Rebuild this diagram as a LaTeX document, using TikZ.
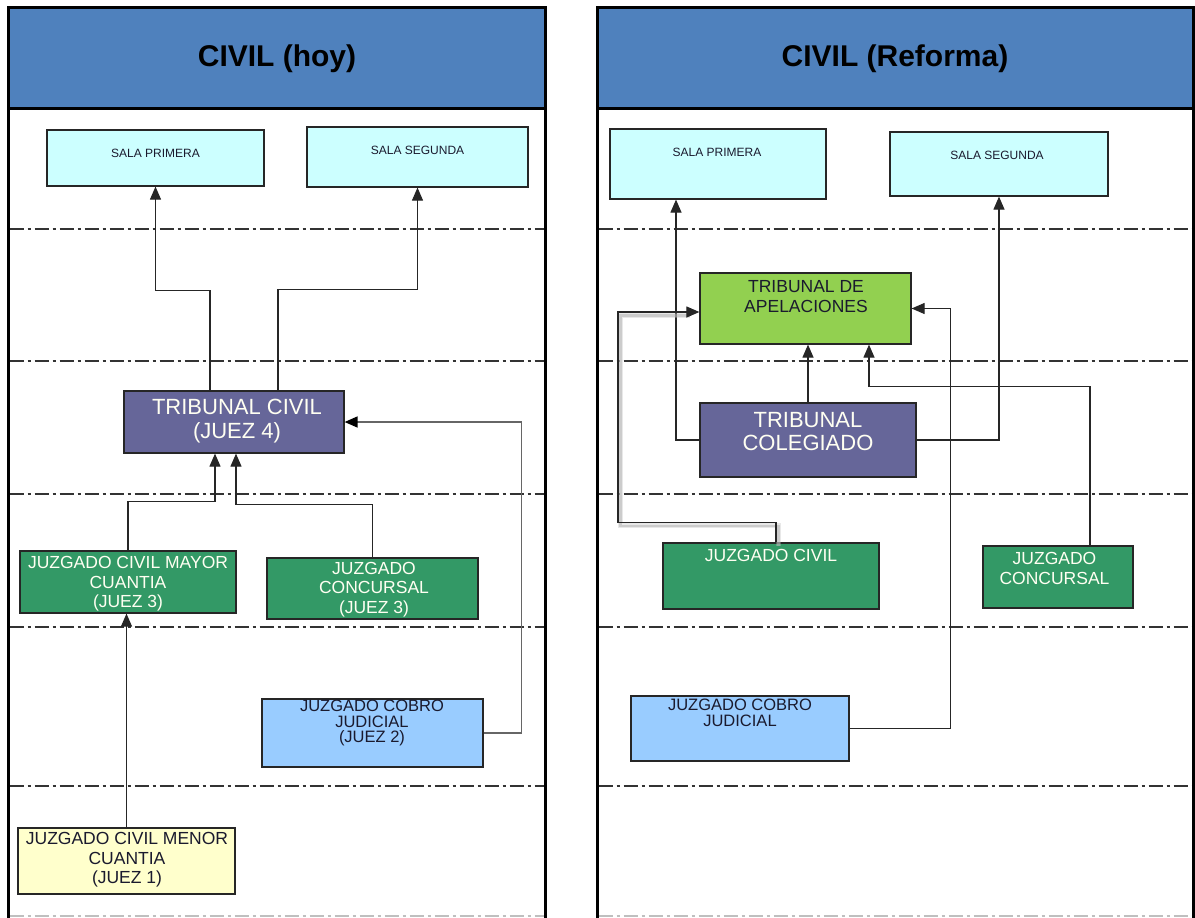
\documentclass[tikz,border=0pt]{standalone}
\usepackage{fontspec}
\setmainfont{Liberation Sans}
\usetikzlibrary{arrows.meta}
\definecolor{hdr}{HTML}{4F81BD}
\definecolor{cyanbox}{HTML}{CCFFFF}
\definecolor{purplebox}{HTML}{666699}
\definecolor{greenbox}{HTML}{339966}
\definecolor{bluebox}{HTML}{99CCFF}
\definecolor{yellowbox}{HTML}{FFFFCC}
\definecolor{limebox}{HTML}{92D050}
\definecolor{darktxt}{HTML}{1A1A2E}
\definecolor{lighttxt}{HTML}{FFFFF2}
\definecolor{sepline}{HTML}{333333}
\tikzset{
  box/.style={draw=black!85, line width=1.2pt, inner sep=0pt, rectangle},
  conn/.style={draw=black!85, line width=1.1pt, -{Triangle[length=13pt,width=11pt]}},
  conngray/.style={draw=gray!80!black, line width=1.6pt, -{Triangle[length=13pt,width=11pt,color=black]}},
  connshadow/.style={draw=gray!50, line width=5pt, opacity=0.35},
  connshadowin/.style={draw=gray!60, line width=2.5pt, opacity=0.5},
  sep/.style={draw=sepline, line width=1.4pt, dash pattern=on 14pt off 4pt on 3pt off 4pt},
  sepgray/.style={draw=gray!50, line width=1.4pt, dash pattern=on 14pt off 4pt on 3pt off 4pt},
  frame/.style={draw=black, line width=3pt},
  ttl/.style={font=\fontsize{30}{32}\selectfont\bfseries, text=black},
  tsmall/.style={font=\fontsize{12}{14}\selectfont, text=darktxt, inner sep=0pt},
  tmid/.style={font=\fontsize{17.5}{19.5}\selectfont, align=center, inner sep=0pt},
  tmidtight/.style={font=\fontsize{16.5}{15.5}\selectfont, align=center, inner sep=0pt},
  tbig/.style={font=\fontsize{22}{24.5}\selectfont, align=center, inner sep=0pt, text=lighttxt},
}
\begin{document}
\begin{tikzpicture}[x=1pt, y=-1pt]
\useasboundingbox (0,0) rectangle (1195,918);
\clip (0,0) rectangle (1195,918);

% ---------- panels ----------
\fill[white] (0,0) rectangle (1195,918);
\fill[hdr] (8,7) rectangle (545,108);
\fill[hdr] (597,7) rectangle (1193,108);
\node[ttl] (tl) at (277,59) {CIVIL (hoy)};
\node[ttl] (tr) at (895,59) {CIVIL (Reforma)};

% separators
\foreach \yy in {229,361,494,627,786} {
  \draw[sep] (9.5,\yy) -- (543.5,\yy);
  \draw[sep] (598.5,\yy) -- (1191.5,\yy);
}
\draw[sepgray] (9.5,916) -- (543.5,916);
\draw[sepgray] (598.5,916) -- (1191.5,916);

\draw[frame] (8,930) -- (8,7) -- (545,7) -- (545,930);
\draw[frame] (8,108) -- (545,108);
\draw[frame] (597,930) -- (597,7) -- (1193,7) -- (1193,930);
\draw[frame] (597,108) -- (1193,108);

% ---------- left boxes ----------
\node[box, fill=cyanbox, minimum width=217pt, minimum height=56pt] (lsp) at (155.5,158) {};
\node[box, fill=cyanbox, minimum width=221pt, minimum height=60pt] (lss) at (417.5,157) {};
\node[box, fill=purplebox, minimum width=220pt, minimum height=62pt] (ltc) at (234,422) {};
\node[box, fill=greenbox, minimum width=216pt, minimum height=62pt] (lmay) at (128,582) {};
\node[box, fill=greenbox, minimum width=211pt, minimum height=61pt] (lcon) at (372.5,588.5) {};
\node[box, fill=bluebox, minimum width=221pt, minimum height=68pt] (lcob) at (372.5,733) {};
\node[box, fill=yellowbox, minimum width=217pt, minimum height=66pt] (lmen) at (126.5,861) {};

\node[tsmall] (lspt) at (155.5,153) {SALA PRIMERA};
\node[tsmall] (lsst) at (417.5,150) {SALA SEGUNDA};
\node[tbig] (ltct) at (237,421) {TRIBUNAL CIVIL\\(JUEZ 4)};
\node[tmid, text=lighttxt] (lmayt) at (128,584) {JUZGADO CIVIL MAYOR\\CUANTIA\\(JUEZ 3)};
\node[tmid, text=lighttxt] (lcont) at (374,589.5) {JUZGADO\\CONCURSAL\\(JUEZ 3)};
\node[tmidtight, text=darktxt] (lcobt) at (372,723) {JUZGADO COBRO\\JUDICIAL\\(JUEZ 2)};
\node[tmid, text=darktxt] (lment) at (127,860) {JUZGADO CIVIL MENOR\\CUANTIA\\(JUEZ 1)};

% ---------- left connectors ----------
\draw[conn] ([xshift=-24pt]ltc.north) -- ++(0,-100) -| (lsp.south);
\draw[conn] ([xshift=44pt]ltc.north) -- ++(0,-101) -| (lss.south);
\draw[conn] (lmay.north) -- ++(0,-49) -| ([xshift=-19pt]ltc.south);
\draw[conn] (lcon.north) -- ++(0,-53) -| ([xshift=2pt]ltc.south);
\draw[conngray] (lcob.east) -- ++(38,0) |- (ltc.east);
\draw[conn] (lmen.north) -- (lmen.north |- lmay.south);

% ---------- right boxes ----------
\node[box, fill=cyanbox, minimum width=216pt, minimum height=70pt] (rsp) at (718,164) {};
\node[box, fill=cyanbox, minimum width=218pt, minimum height=64pt] (rss) at (999,164) {};
\node[box, fill=limebox, minimum width=211pt, minimum height=71pt] (rta) at (805.5,308.5) {};
\node[box, fill=purplebox, minimum width=216pt, minimum height=74pt] (rtc) at (808,440) {};
\node[box, fill=greenbox, minimum width=216pt, minimum height=66pt] (rjc) at (771,576) {};
\node[box, fill=greenbox, minimum width=150pt, minimum height=62pt] (rcon) at (1058,577) {};
\node[box, fill=bluebox, minimum width=218pt, minimum height=65pt] (rcob) at (740,728.5) {};

\node[tsmall] (rspt) at (717,152) {SALA PRIMERA};
\node[tsmall] (rsst) at (997,155) {SALA SEGUNDA};
\node[tmid, text=darktxt] (rtat) at (806,296.5) {TRIBUNAL DE\\APELACIONES};
\node[tbig, font=\fontsize{22}{23}\selectfont] (rtct) at (808,431.5) {TRIBUNAL\\COLEGIADO};
\node[tmid, text=lighttxt] (rjct) at (771,555) {JUZGADO CIVIL};
\node[tmid, text=lighttxt] (rcont) at (1054.5,568.5) {JUZGADO\\CONCURSAL};
\node[tmidtight, text=darktxt] (rcobt) at (740,713) {JUZGADO COBRO\\JUDICIAL};

% ---------- right connectors ----------
\draw[conn] (rtc.west) -| ([xshift=-42pt]rsp.south);
\draw[conn] (rtc.east) -| (rss.south);
\draw[conn] (rtc.north) -- (rtc.north |- rta.south);
\draw[conn] ([xshift=32pt]rcon.north) -- ++(0,-159) -| ([xshift=63.5pt]rta.south);
\begin{scope}[transform canvas={shift={(2.5pt,-3.5pt)}}]
\draw[connshadow] ([xshift=5pt]rjc.north) -- ++(0,-20) -- ++(-158,0) |- ([yshift=-3.5pt,xshift=-12pt]rta.west);
\draw[connshadowin] ([xshift=5pt]rjc.north) -- ++(0,-20) -- ++(-158,0) |- ([yshift=-3.5pt,xshift=-12pt]rta.west);
\end{scope}
\draw[conn] ([xshift=5pt]rjc.north) -- ++(0,-20) -- ++(-158,0) |- ([yshift=-3.5pt]rta.west);
\draw[conn] (rcob.east) -- ++(101,0) |- (rta.east);
\end{tikzpicture}
\end{document}
